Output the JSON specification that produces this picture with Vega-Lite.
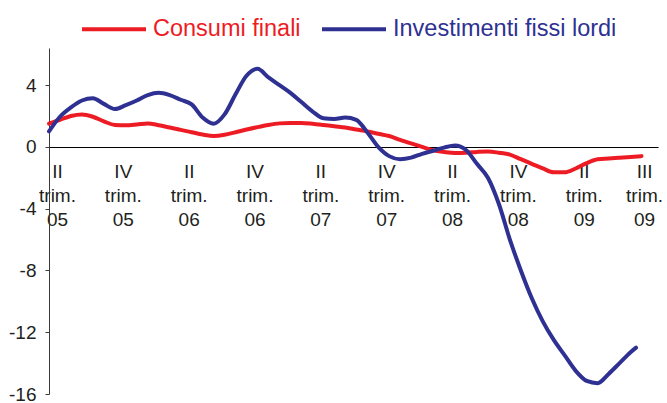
{
  "$schema": "https://vega.github.io/schema/vega-lite/v6.json",
  "width": 609,
  "height": 346,
  "autosize": {"type": "none"},
  "padding": {"left": 49, "top": 48, "right": 9, "bottom": 9},
  "background": "white",
  "config": {"view": {"stroke": null}, "font": "Liberation Sans"},
  "data": {"values": [
    {"serie":"Consumi finali","mese":0,"valore":1.5},{"serie":"Consumi finali","mese":1,"valore":1.75},{"serie":"Consumi finali","mese":2,"valore":2.0},{"serie":"Consumi finali","mese":3,"valore":2.1},{"serie":"Consumi finali","mese":4,"valore":1.95},{"serie":"Consumi finali","mese":5,"valore":1.65},{"serie":"Consumi finali","mese":6,"valore":1.42},{"serie":"Consumi finali","mese":7,"valore":1.4},{"serie":"Consumi finali","mese":8,"valore":1.45},{"serie":"Consumi finali","mese":9,"valore":1.52},{"serie":"Consumi finali","mese":10,"valore":1.4},{"serie":"Consumi finali","mese":11,"valore":1.25},{"serie":"Consumi finali","mese":12,"valore":1.1},{"serie":"Consumi finali","mese":13,"valore":0.95},{"serie":"Consumi finali","mese":14,"valore":0.8},{"serie":"Consumi finali","mese":15,"valore":0.7},{"serie":"Consumi finali","mese":16,"valore":0.78},{"serie":"Consumi finali","mese":17,"valore":0.95},{"serie":"Consumi finali","mese":18,"valore":1.12},{"serie":"Consumi finali","mese":19,"valore":1.28},{"serie":"Consumi finali","mese":20,"valore":1.42},{"serie":"Consumi finali","mese":21,"valore":1.52},{"serie":"Consumi finali","mese":22,"valore":1.55},{"serie":"Consumi finali","mese":23,"valore":1.55},{"serie":"Consumi finali","mese":24,"valore":1.5},{"serie":"Consumi finali","mese":25,"valore":1.42},{"serie":"Consumi finali","mese":26,"valore":1.33},{"serie":"Consumi finali","mese":27,"valore":1.25},{"serie":"Consumi finali","mese":28,"valore":1.12},{"serie":"Consumi finali","mese":29,"valore":1.0},{"serie":"Consumi finali","mese":30,"valore":0.85},{"serie":"Consumi finali","mese":31,"valore":0.7},{"serie":"Consumi finali","mese":32,"valore":0.45},{"serie":"Consumi finali","mese":33,"valore":0.22},{"serie":"Consumi finali","mese":34,"valore":0.0},{"serie":"Consumi finali","mese":35,"valore":-0.22},{"serie":"Consumi finali","mese":36,"valore":-0.33},{"serie":"Consumi finali","mese":37,"valore":-0.4},{"serie":"Consumi finali","mese":38,"valore":-0.38},{"serie":"Consumi finali","mese":39,"valore":-0.33},{"serie":"Consumi finali","mese":40,"valore":-0.3},{"serie":"Consumi finali","mese":41,"valore":-0.38},{"serie":"Consumi finali","mese":42,"valore":-0.5},{"serie":"Consumi finali","mese":43,"valore":-0.8},{"serie":"Consumi finali","mese":44,"valore":-1.1},{"serie":"Consumi finali","mese":45,"valore":-1.4},{"serie":"Consumi finali","mese":46,"valore":-1.65},{"serie":"Consumi finali","mese":47,"valore":-1.65},{"serie":"Consumi finali","mese":48,"valore":-1.4},{"serie":"Consumi finali","mese":49,"valore":-1.05},{"serie":"Consumi finali","mese":50,"valore":-0.8},{"serie":"Consumi finali","mese":51,"valore":-0.75},{"serie":"Consumi finali","mese":52,"valore":-0.7},{"serie":"Consumi finali","mese":53,"valore":-0.65},{"serie":"Consumi finali","mese":54,"valore":-0.6},
    {"serie":"Investimenti fissi lordi","mese":0,"valore":1.0},{"serie":"Investimenti fissi lordi","mese":1,"valore":1.95},{"serie":"Investimenti fissi lordi","mese":2,"valore":2.55},{"serie":"Investimenti fissi lordi","mese":3,"valore":3.0},{"serie":"Investimenti fissi lordi","mese":4,"valore":3.15},{"serie":"Investimenti fissi lordi","mese":5,"valore":2.78},{"serie":"Investimenti fissi lordi","mese":6,"valore":2.45},{"serie":"Investimenti fissi lordi","mese":7,"valore":2.7},{"serie":"Investimenti fissi lordi","mese":8,"valore":3.0},{"serie":"Investimenti fissi lordi","mese":9,"valore":3.35},{"serie":"Investimenti fissi lordi","mese":10,"valore":3.5},{"serie":"Investimenti fissi lordi","mese":11,"valore":3.35},{"serie":"Investimenti fissi lordi","mese":12,"valore":3.05},{"serie":"Investimenti fissi lordi","mese":13,"valore":2.75},{"serie":"Investimenti fissi lordi","mese":14,"valore":1.9},{"serie":"Investimenti fissi lordi","mese":15,"valore":1.5},{"serie":"Investimenti fissi lordi","mese":16,"valore":2.1},{"serie":"Investimenti fissi lordi","mese":17,"valore":3.4},{"serie":"Investimenti fissi lordi","mese":18,"valore":4.6},{"serie":"Investimenti fissi lordi","mese":19,"valore":5.05},{"serie":"Investimenti fissi lordi","mese":20,"valore":4.5},{"serie":"Investimenti fissi lordi","mese":21,"valore":4.0},{"serie":"Investimenti fissi lordi","mese":22,"valore":3.5},{"serie":"Investimenti fissi lordi","mese":23,"valore":2.9},{"serie":"Investimenti fissi lordi","mese":24,"valore":2.3},{"serie":"Investimenti fissi lordi","mese":25,"valore":1.85},{"serie":"Investimenti fissi lordi","mese":26,"valore":1.8},{"serie":"Investimenti fissi lordi","mese":27,"valore":1.9},{"serie":"Investimenti fissi lordi","mese":28,"valore":1.75},{"serie":"Investimenti fissi lordi","mese":29,"valore":0.95},{"serie":"Investimenti fissi lordi","mese":30,"valore":0.0},{"serie":"Investimenti fissi lordi","mese":31,"valore":-0.6},{"serie":"Investimenti fissi lordi","mese":32,"valore":-0.8},{"serie":"Investimenti fissi lordi","mese":33,"valore":-0.7},{"serie":"Investimenti fissi lordi","mese":34,"valore":-0.45},{"serie":"Investimenti fissi lordi","mese":35,"valore":-0.25},{"serie":"Investimenti fissi lordi","mese":36,"valore":-0.05},{"serie":"Investimenti fissi lordi","mese":37,"valore":0.08},{"serie":"Investimenti fissi lordi","mese":38,"valore":-0.2},{"serie":"Investimenti fissi lordi","mese":39,"valore":-1.1},{"serie":"Investimenti fissi lordi","mese":40,"valore":-2.0},{"serie":"Investimenti fissi lordi","mese":41,"valore":-3.7},{"serie":"Investimenti fissi lordi","mese":42,"valore":-6.0},{"serie":"Investimenti fissi lordi","mese":43,"valore":-8.0},{"serie":"Investimenti fissi lordi","mese":44,"valore":-9.8},{"serie":"Investimenti fissi lordi","mese":45,"valore":-11.3},{"serie":"Investimenti fissi lordi","mese":46,"valore":-12.5},{"serie":"Investimenti fissi lordi","mese":47,"valore":-13.5},{"serie":"Investimenti fissi lordi","mese":48,"valore":-14.5},{"serie":"Investimenti fissi lordi","mese":49,"valore":-15.15},{"serie":"Investimenti fissi lordi","mese":50,"valore":-15.3},{"serie":"Investimenti fissi lordi","mese":51,"valore":-14.7},{"serie":"Investimenti fissi lordi","mese":52,"valore":-14.0},{"serie":"Investimenti fissi lordi","mese":53,"valore":-13.3},{"serie":"Investimenti fissi lordi","mese":53.5,"valore":-13.0}
  ]},
  "mark": {"type": "line", "strokeWidth": 4, "interpolate": "monotone", "strokeCap": "round", "strokeJoin": "round"},
  "encoding": {
    "x": {
      "field": "mese", "type": "quantitative",
      "scale": {"domain": [0, 55.5], "nice": false, "zero": false},
      "axis": {
        "orient": "bottom", "offset": -247, "title": null, "grid": false,
        "values": [0, 6, 12, 18, 24, 30, 36, 42, 48, 53.5],
        "labelExpr": "datum.value > 50 ? ['III', 'trim.', '09'] : [datum.value % 12 == 0 ? 'II' : 'IV', 'trim.', '0' + (5 + floor(datum.value / 12))]",
        "ticks": false, "tickSize": 0,
        "domainColor": "#000000", "domainWidth": 1,
        "labelFont": "Liberation Sans", "labelFontSize": 19, "labelColor": "#231f20",
        "labelLineHeight": 24, "labelPadding": 15, "labelOffset": 8,
        "labelAlign": "center", "labelBaseline": "top", "labelOverlap": false, "labelFlush": false
      }
    },
    "y": {
      "field": "valore", "type": "quantitative",
      "scale": {"domain": [-16, 6.4], "nice": false, "zero": false},
      "axis": {
        "values": [-16, -12, -8, -4, 0, 4], "title": null, "grid": false,
        "labelExpr": "'' + datum.value",
        "tickSize": 4, "tickColor": "#3a3a3a", "domainColor": "#3a3a3a", "domainWidth": 1,
        "labelFont": "Liberation Sans", "labelFontSize": 19, "labelColor": "#231f20",
        "labelPadding": 9, "labelOverlap": false, "labelFlush": false
      }
    },
    "color": {
      "field": "serie", "type": "nominal",
      "scale": {"domain": ["Consumi finali", "Investimenti fissi lordi"], "range": ["#ED1C24", "#2E3192"]},
      "legend": {
        "orient": "none", "legendX": 31, "legendY": -53, "direction": "horizontal", "title": null,
        "symbolType": "stroke", "symbolSize": 4096, "symbolStrokeWidth": 4,
        "labelFont": "Liberation Sans", "labelFontSize": 23.5, "labelOffset": 5, "labelLimit": 400,
        "columnPadding": 13, "padding": 0,
        "labelColor": {"expr": "datum.value == 'Consumi finali' ? '#ED1C24' : '#2E3192'"}
      }
    }
  }
}
